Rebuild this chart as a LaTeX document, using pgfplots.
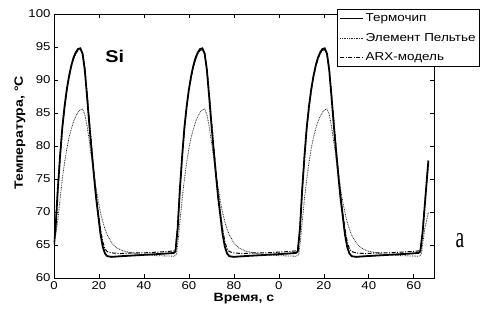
\documentclass[border=0pt]{standalone}
\usepackage{fontspec}
\setmainfont{Liberation Sans}[FakeStretch=1.17]
\newfontfamily\serifa{Liberation Serif}[FakeStretch=0.65]
\usepackage{pgfplots}
\pgfplotsset{compat=1.18}
\begin{document}
\begin{tikzpicture}
\path[use as bounding box] (-54pt,-35pt) rectangle (430pt,278pt);
\begin{axis}[
 name=ax, at={(0pt,0pt)}, anchor=south west,
 width=380pt, height=264pt, scale only axis,
 xmin=0, xmax=169, ymin=60, ymax=100,
 xtick={0,20,...,160}, xticklabels={0,20,40,60,80,0,20,40,60},
 ytick={60,65,...,100},
 tick align=inside, major tick length=4pt,
 axis line style={line width=0.8pt},
 tick style={black, line width=0.6pt},
 /pgf/number format/assume math mode=true,
 ticklabel style={font=\fontsize{11.3}{13}\selectfont},
 xlabel={Время, с}, ylabel={Температура, °C},
 label style={font=\bfseries\fontsize{12}{14}\selectfont},
 xlabel style={at={(axis description cs:0.5,-0.09)}, anchor=base},
 ylabel style={at={(axis description cs:-0.082,0.55)}, anchor=base},
 legend image code/.code={\draw[#1] (0pt,0pt) -- (23pt,0pt);},
 legend cell align=left,
 legend style={at={(axis description cs:0.745,1.019)}, anchor=north west,
   draw=black, line width=0.6pt, fill=white,
   font=\fontsize{11.5}{13}\selectfont, inner xsep=2pt, inner ysep=2pt,
   row sep=5pt,
   nodes={inner sep=1.5pt, text height=8.8pt, text depth=2.7pt}},
]
\addplot[black, line width=1.8pt] coordinates {
(0,65.0) (0.7,67.5) (1.7,73.5) (2.7,78.5) (3.7,82.8) (4.7,86.0) (5.7,88.6) (6.7,90.6) (7.7,92.2) (8.7,93.4) (9.7,94.2) (10.7,94.7) (11.7,94.8) (12.7,94.0) (13.7,91.5) (14.7,87.5) (15.7,83.3) (16.7,79.4) (17.7,75.7) (18.7,72.2) (19.7,69.4) (20.7,66.6) (21.7,64.7) (22.7,63.7) (23.7,63.3) (25.7,63.2) (29.7,63.3) (34.7,63.4) (39.7,63.5) (44.7,63.6) (49.7,63.7) (53.2,63.8)
(54,64.0) (55,67.5) (56,73.5) (57,78.5) (58,82.8) (59,86.0) (60,88.6) (61,90.6) (62,92.2) (63,93.4) (64,94.2) (65,94.7) (66,94.8) (67,94.0) (68,91.5) (69,87.5) (70,83.3) (71,79.4) (72,75.7) (73,72.2) (74,69.4) (75,66.6) (76,64.7) (77,63.7) (78,63.3) (80,63.2) (84,63.3) (89,63.4) (94,63.5) (99,63.6) (104,63.7) (107.6,63.8)
(108.4,64.0) (109.4,67.5) (110.4,73.5) (111.4,78.5) (112.4,82.8) (113.4,86.0) (114.4,88.6) (115.4,90.6) (116.4,92.2) (117.4,93.4) (118.4,94.2) (119.4,94.7) (120.4,94.8) (121.4,94.0) (122.4,91.5) (123.4,87.5) (124.4,83.3) (125.4,79.4) (126.4,75.7) (127.4,72.2) (128.4,69.4) (129.4,66.6) (130.4,64.7) (131.4,63.7) (132.4,63.3) (134.4,63.2) (138.4,63.3) (143.4,63.4) (148.4,63.5) (153.4,63.6) (158.4,63.7) (162.1,63.8)
(162.9,64.0) (163.9,66.8) (164.9,71.0) (165.9,75.3) (166.5,77.8)
};
\addlegendentry{Термочип}
\addplot[black!85, line width=0.8pt, dash pattern=on 0.8pt off 0.9pt] coordinates {
(0,65.5) (0.7,66.5) (1.7,68.8) (2.7,72) (3.7,75) (4.7,77.5) (5.7,79.6) (6.7,81.3) (7.7,82.6) (8.7,83.7) (9.7,84.5) (10.7,85.1) (11.7,85.5) (12.7,85.6) (13.7,84.8) (14.7,83) (15.7,80.7) (16.7,78.2) (17.7,75.8) (18.7,73.6) (19.7,71.6) (20.7,69.9) (21.7,68.5) (22.7,67.4) (23.7,66.5) (25.7,65.3) (27.7,64.6) (30.7,64.1) (34.7,63.8) (39.7,63.5) (44.7,63.4) (53.2,63.3)
(54,63.4) (54.5,63.6) (55,65) (56,68.5) (57,72) (58,75) (59,77.5) (60,79.6) (61,81.3) (62,82.6) (63,83.7) (64,84.5) (65,85.1) (66,85.5) (67,85.6) (68,84.8) (69,83) (70,80.7) (71,78.2) (72,75.8) (73,73.6) (74,71.6) (75,69.9) (76,68.5) (77,67.4) (78,66.5) (80,65.3) (82,64.6) (85,64.1) (89,63.8) (94,63.5) (99,63.4) (107.5,63.3)
(108.4,63.4) (108.9,63.6) (109.4,65) (110.4,68.5) (111.4,72) (112.4,75) (113.4,77.5) (114.4,79.6) (115.4,81.3) (116.4,82.6) (117.4,83.7) (118.4,84.5) (119.4,85.1) (120.4,85.5) (121.4,85.6) (122.4,84.8) (123.4,83) (124.4,80.7) (125.4,78.2) (126.4,75.8) (127.4,73.6) (128.4,71.6) (129.4,69.9) (130.4,68.5) (131.4,67.4) (132.4,66.5) (134.4,65.3) (136.4,64.6) (139.4,64.1) (143.4,63.8) (148.4,63.5) (153.4,63.4) (162.1,63.3)
(162.9,63.4) (163.4,63.6) (163.9,65) (164.9,67.5) (165.9,69.0) (166.5,70.0)
};
\addlegendentry{Элемент Пельтье}
\addplot[black, line width=1pt, dash pattern=on 4pt off 1.5pt on 1pt off 1.5pt] coordinates {
(0,65.2) (0.7,67.8) (1.7,73.5) (2.7,78.3) (3.7,82.5) (4.7,85.8) (5.7,88.4) (6.7,90.4) (7.7,92.0) (8.7,93.2) (9.7,94.0) (10.7,94.5) (11.7,94.6) (12.7,94.0) (13.7,91.8) (14.7,88.0) (15.7,84.0) (16.7,80.0) (17.7,76.3) (18.7,72.9) (19.7,69.9) (20.7,67.4) (21.7,65.5) (22.7,64.4) (23.7,64.0) (25.7,63.8) (29.7,63.7) (34.7,63.8) (39.7,63.8) (44.7,63.9) (49.7,64.0) (53.2,64.1)
(54,64.2) (55,67.8) (56,73.5) (57,78.3) (58,82.5) (59,85.8) (60,88.4) (61,90.4) (62,92.0) (63,93.2) (64,94.0) (65,94.5) (66,94.6) (67,94.0) (68,91.8) (69,88.0) (70,84.0) (71,80.0) (72,76.3) (73,72.9) (74,69.9) (75,67.4) (76,65.5) (77,64.4) (78,64.0) (80,63.8) (84,63.7) (89,63.8) (94,63.8) (99,63.9) (104,64.0) (107.6,64.1)
(108.4,64.2) (109.4,67.8) (110.4,73.5) (111.4,78.3) (112.4,82.5) (113.4,85.8) (114.4,88.4) (115.4,90.4) (116.4,92.0) (117.4,93.2) (118.4,94.0) (119.4,94.5) (120.4,94.6) (121.4,94.0) (122.4,91.8) (123.4,88.0) (124.4,84.0) (125.4,80.0) (126.4,76.3) (127.4,72.9) (128.4,69.9) (129.4,67.4) (130.4,65.5) (131.4,64.4) (132.4,64.0) (134.4,63.8) (138.4,63.7) (143.4,63.8) (148.4,63.8) (153.4,63.9) (158.4,64.0) (162.1,64.1)
(162.9,64.2) (163.9,67.0) (164.9,71.2) (165.9,75.2) (166.5,77.4)
};
\addlegendentry{ARX-модель}
\node[font=\bfseries\fontsize{17}{17}\selectfont] at (axis cs:27,93.6) {Si};
\end{axis}
\node[font=\serifa\fontsize{30}{30}\selectfont] at (406pt,37pt) {a};
\end{tikzpicture}
\end{document}
